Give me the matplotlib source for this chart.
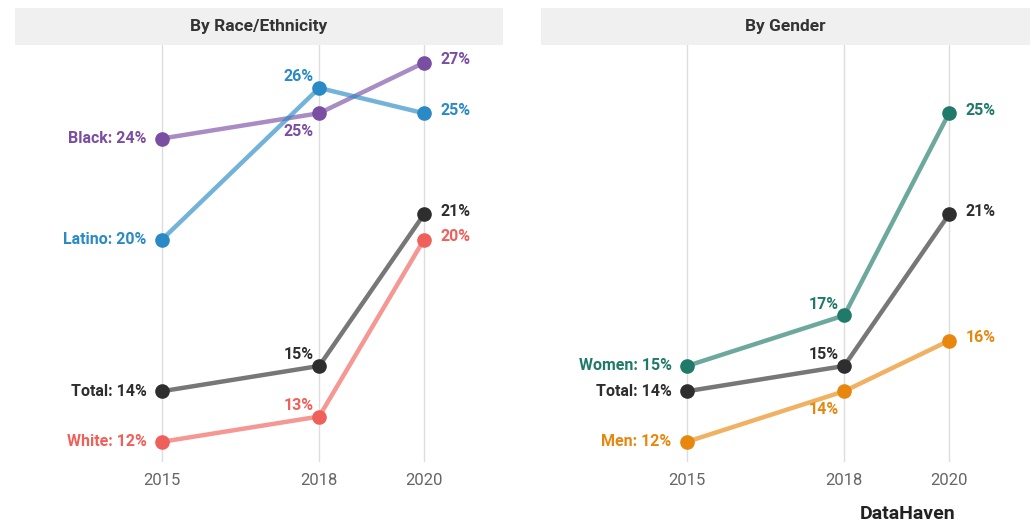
import matplotlib.pyplot as plt
from matplotlib.patches import Rectangle

years = [2015, 2018, 2020]

race_names = ["Black", "Latino", "Total", "White"]
race_values = [
    [24, 25, 27],
    [20, 26, 25],
    [14, 15, 21],
    [12, 13, 20],
]
race_colors = ["#7a4ea3", "#2a8ac6", "#2e2e2e", "#f0605a"]

gender_names = ["Women", "Total", "Men"]
gender_values = [
    [15, 17, 25],
    [14, 15, 21],
    [12, 14, 16],
]
gender_colors = ["#1f7a69", "#2e2e2e", "#e8870e"]

# where the 2018 label sits relative to its dot (above / below)
race_mid_pos = ["below", "above", "above", "above"]
gender_mid_pos = ["above", "above", "below"]

plt.rcParams['font.family'] = ['Liberation Sans Narrow', 'Roboto', 'DejaVu Sans']

W, H = 1032, 527
fig = plt.figure(figsize=(W / 100, H / 100), dpi=100)


def draw_panel(x0, x1, x2015, title, names, values, colors, mid_pos):
    ax = fig.add_axes([x0 / W, (H - 462) / H, (x1 - x0) / W, (462 - 45) / H])
    # header strip
    fig.patches.append(Rectangle((x0 / W, (H - 45) / H), (x1 - x0) / W, 37 / H,
                                 transform=fig.transFigure, facecolor="#f0f0f0",
                                 edgecolor="none"))
    fig.text((x0 + x1) / 2 / W, (H - 27) / H, title, ha="center", va="center",
             fontsize=12.5, fontweight="bold", color="#333333")

    for yr in years:
        ax.axvline(yr, color="#dddddd", lw=1, zorder=0)

    for name, vals, col, pos in zip(names, values, colors, mid_pos):
        ax.plot(years, vals, color=col, lw=3.2, alpha=0.65, solid_capstyle="round", zorder=2)
        ax.plot(years, vals, "o", color=col, ms=9.5, zorder=3)
        ax.annotate(f"{name}: {vals[0]}%", (years[0], vals[0]), xytext=(-11, 0),
                    textcoords="offset points", ha="right", va="center",
                    fontsize=11.5, fontweight="bold", color=col)
        dy = 8 if pos == "above" else -13
        ax.annotate(f"{vals[1]}%", (years[1], vals[1]), xytext=(-4, dy),
                    textcoords="offset points", ha="right", va="center",
                    fontsize=11.5, fontweight="bold", color=col)
        ax.annotate(f"{vals[2]}%", (years[2], vals[2]), xytext=(12, 2),
                    textcoords="offset points", ha="left", va="center",
                    fontsize=11.5, fontweight="bold", color=col)

    px_per_year = 52.4
    ax.set_xlim(2015 - (x2015 - x0) / px_per_year, 2015 + (x1 - x2015) / px_per_year)
    ax.set_ylim(11.2, 27.7)
    ax.set_xticks(years)
    ax.set_xticklabels([str(y) for y in years], fontsize=12, color="#666666")
    ax.tick_params(axis="x", length=0, pad=8)
    ax.set_yticks([])
    for s in ax.spines.values():
        s.set_visible(False)
    return ax


draw_panel(15, 503, 162, "By Race/Ethnicity", race_names, race_values, race_colors, race_mid_pos)
draw_panel(541, 1030, 687, "By Gender", gender_names, gender_values, gender_colors, gender_mid_pos)

fig.text(908 / W, (H - 514) / H, "DataHaven", ha="center", va="center",
         fontsize=14, fontweight="bold", color="#222222")

fig.savefig("out.png", dpi=100)
